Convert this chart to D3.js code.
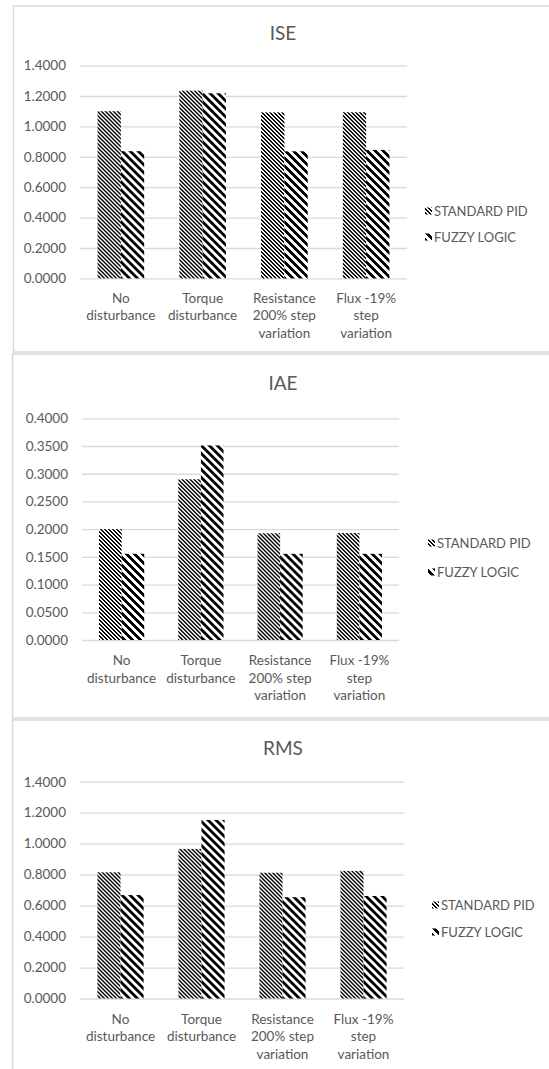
<!DOCTYPE html>
<html>
<head>
<meta charset="utf-8">
<script src="https://cdn.jsdelivr.net/npm/d3@7"></script>
<style>
  body { margin: 0; background: #fff; }
  text { font-family: Lato, "Open Sans", sans-serif; fill: #595959; }
</style>
</head>
<body>
<svg width="549" height="1069"></svg>
<script>
// categories and series
const categories = ["No\ndisturbance", "Torque\ndisturbance", "Resistance\n200% step\nvariation", "Flux -19%\nstep\nvariation"];
const seriesNames = ["STANDARD PID", "FUZZY LOGIC"];

// values
const isePid   = [1.100, 1.235, 1.092, 1.093];
const iseFuzzy = [0.837, 1.218, 0.836, 0.845];
const iaePid   = [0.200, 0.290, 0.1925, 0.193];
const iaeFuzzy = [0.1555, 0.351, 0.1555, 0.1555];
const rmsPid   = [0.815, 0.966, 0.812, 0.824];
const rmsFuzzy = [0.668, 1.153, 0.654, 0.662];

// tick values
const bigTicks   = [0, 0.2, 0.4, 0.6, 0.8, 1.0, 1.2, 1.4];
const smallTicks = [0, 0.05, 0.1, 0.15, 0.2, 0.25, 0.3, 0.35, 0.4];

const svg = d3.select("svg");
const defs = svg.append("defs");

// pixel patterns: dark downward diagonal / wide downward diagonal
function makePattern(id, size, on) {
  const p = defs.append("pattern")
    .attr("id", id)
    .attr("patternUnits", "userSpaceOnUse")
    .attr("width", size)
    .attr("height", size);
  p.append("rect").attr("width", size).attr("height", size).attr("fill", "#fff");
  for (let y = 0; y < size; y++) {
    for (let x = 0; x < size; x++) {
      const k = ((x - y) % size + size) % size;
      if (k < on) {
        p.append("rect").attr("x", x).attr("y", y).attr("width", 1).attr("height", 1)
          .attr("fill", "#000").attr("shape-rendering", "crispEdges");
      }
    }
  }
}
makePattern("pid", 4, 2);
makePattern("fuzzy", 8, 4);
const fills = { "STANDARD PID": "url(#pid)", "FUZZY LOGIC": "url(#fuzzy)" };

const panels = [
  { title: "ISE", pid: isePid, fuzzy: iseFuzzy, ticks: bigTicks,
    box: [13.5, 6, 352], titleY: 33, left: 80, right: 407, y0: 278.4, y1: 65.6,
    labelY: 298, legX: 425, legY: [211, 237] },
  { title: "IAE", pid: iaePid, fuzzy: iaeFuzzy, ticks: smallTicks,
    box: [12.5, 354, 718], titleY: 383, left: 82, right: 399, y0: 640, y1: 418.3,
    labelY: 660.7, legX: 428, legY: [543, 572] },
  { title: "RMS", pid: rmsPid, fuzzy: rmsFuzzy, ticks: bigTicks,
    box: [12.5, 720, 1100], titleY: 748, left: 80, right: 404, y0: 998.5, y1: 781.7,
    labelY: 1019, legX: 432, legY: [905, 932] }
];

panels.forEach(pn => {
  // panel frame
  svg.append("rect")
    .attr("x", pn.box[0])
    .attr("y", pn.box[1])
    .attr("width", 600)
    .attr("height", pn.box[2] - pn.box[1])
    .attr("fill", "none")
    .attr("stroke", "#d9d9d9")
    .attr("stroke-width", 1.5);

  const y = d3.scaleLinear()
    .domain([0, d3.max(pn.ticks)])
    .range([pn.y0, pn.y1]);

  const x0 = d3.scaleBand()
    .domain(categories)
    .range([pn.left, pn.right])
    .paddingInner(0.43)
    .paddingOuter(0.215);

  const x1 = d3.scaleBand()
    .domain(seriesNames)
    .range([0, x0.bandwidth()]);

  // y axis + gridlines
  const ax = svg.append("g")
    .attr("transform", `translate(${pn.left},0)`)
    .call(d3.axisLeft(y)
      .tickValues(pn.ticks)
      .tickSize(-(pn.right - pn.left))
      .tickPadding(14)
      .tickFormat(d3.format(".4f")));
  ax.select(".domain").remove();
  ax.selectAll("line").attr("stroke", "#d9d9d9").attr("stroke-width", 1.3);
  ax.selectAll("text")
    .style("font-size", "13.5px")
    .style("font-family", "Lato, sans-serif")
    .attr("fill", "#595959");

  // title
  svg.append("text")
    .attr("x", 283)
    .attr("y", pn.titleY)
    .attr("dy", "0.35em")
    .attr("text-anchor", "middle")
    .style("font-size", "19px")
    .text(pn.title);

  // bars
  const rows = categories.map((c, i) => ({ cat: c, vals: [
    { s: seriesNames[0], v: pn.pid[i] },
    { s: seriesNames[1], v: pn.fuzzy[i] }
  ]}));

  const grp = svg.append("g").selectAll("g")
    .data(rows)
    .join("g")
    .attr("transform", d => `translate(${x0(d.cat)},0)`);

  grp.selectAll("rect")
    .data(d => d.vals)
    .join("rect")
    .attr("x", d => x1(d.s))
    .attr("y", d => y(d.v))
    .attr("width", x1.bandwidth())
    .attr("height", d => y(0) - y(d.v))
    .attr("fill", d => fills[d.s]);

  // category labels
  const lab = svg.append("g").selectAll("text")
    .data(categories)
    .join("text")
    .attr("text-anchor", "middle")
    .style("font-size", "13.5px");
  lab.each(function (c) {
    const t = d3.select(this);
    c.split("\n").forEach((line, k) => {
      t.append("tspan")
        .attr("x", x0(c) + x0.bandwidth() / 2)
        .attr("y", pn.labelY + k * 17.5)
        .attr("dy", "0.35em")
        .text(line);
    });
  });

  // legend
  seriesNames.forEach((s, i) => {
    svg.append("rect")
      .attr("x", pn.legX)
      .attr("y", pn.legY[i] - 3.5)
      .attr("width", 7)
      .attr("height", 7)
      .attr("fill", fills[s]);
    svg.append("text")
      .attr("x", pn.legX + 9)
      .attr("y", pn.legY[i])
      .attr("dy", "0.35em")
      .style("font-size", "13px")
      .text(s);
  });
});
</script>
</body>
</html>
